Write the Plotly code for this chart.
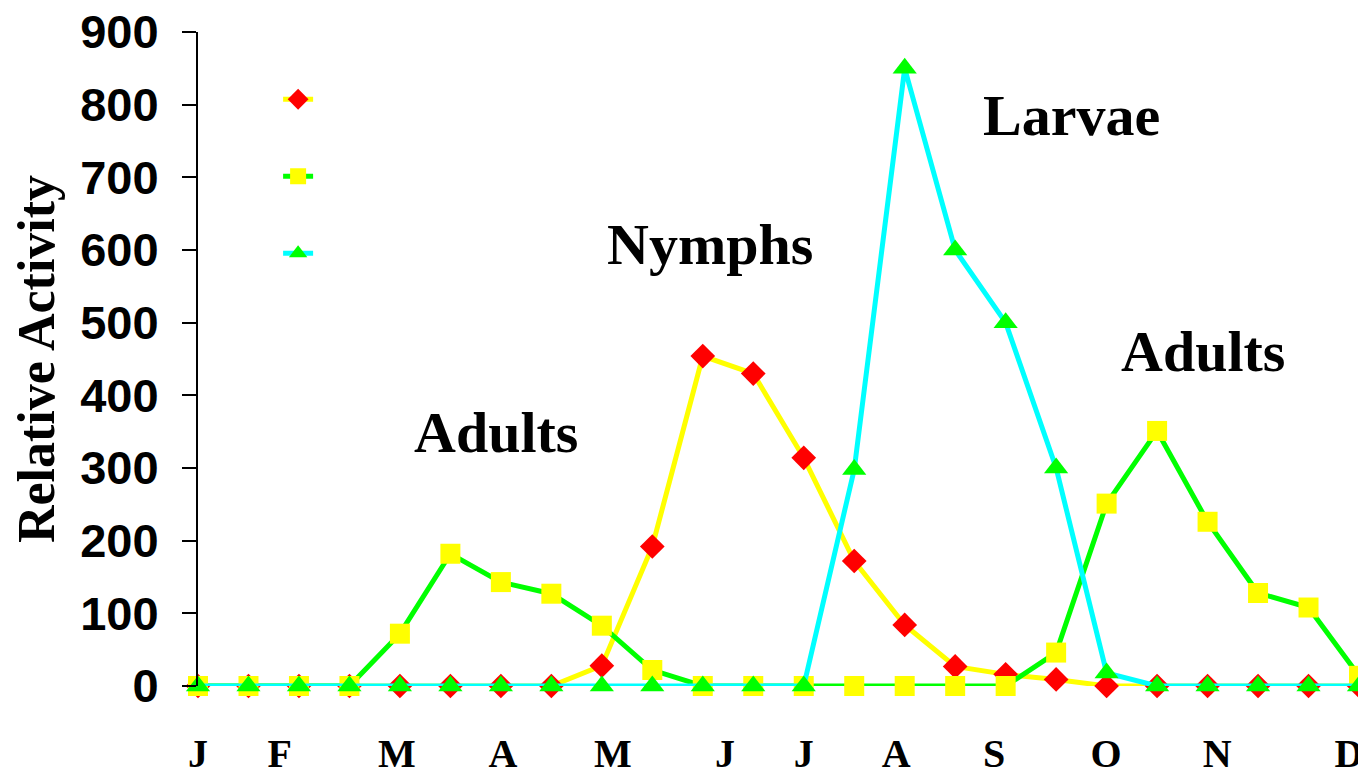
import plotly.graph_objects as go

# semi-monthly sampling points (Jan .. Dec, two per month)
periods = list(range(24))

nymphs = [0, 0, 0, 0, 0, 0, 0, 0, 28, 192, 454, 430, 314, 172, 84, 27, 16, 9, 0, 0, 0, 0, 0, 0]
adults = [0, 0, 0, 0, 72, 182, 143, 127, 83, 22, 0, 0, 0, 0, 0, 0, 0, 46, 251, 351, 226, 128, 108, 14]
larvae = [0, 0, 0, 0, 0, 0, 0, 0, 0, 0, 0, 0, 0, 298, 850, 600, 500, 300, 18, 0, 0, 0, 0, 0]

month_labels = ["J", "F", "M", "A", "M", "J", "J", "A", "S", "O", "N", "D"]
month_pos = [0, 1.62, 3.94, 6.04, 8.22, 10.44, 12.0, 13.83, 15.77, 17.99, 20.19, 22.8]

y_ticks = [0, 100, 200, 300, 400, 500, 600, 700, 800, 900]

stage_labels = ["Nymphs", "Larvae", "Adults", "Adults"]
stage_x = [10.15, 17.3, 5.9, 19.9]
stage_y = [607, 785, 349, 461]

SERIF = "Liberation Serif, Times New Roman, serif"

fig = go.Figure()
fig.add_trace(go.Scatter(
    x=periods, y=nymphs, mode="lines+markers", name="", legendgroup="n",
    line=dict(color="#FFFF00", width=5),
    marker=dict(symbol="diamond", size=19, color="#FF0000", line=dict(width=0)),
    cliponaxis=False))
fig.add_trace(go.Scatter(
    x=periods, y=adults, mode="lines+markers", name="", legendgroup="a",
    line=dict(color="#00FF00", width=5),
    marker=dict(symbol="square", size=20, color="#FFFF00", line=dict(width=0)),
    cliponaxis=False))
fig.add_trace(go.Scatter(
    x=periods, y=larvae, mode="lines+markers", name="", legendgroup="l",
    line=dict(color="#00FFFF", width=5),
    marker=dict(symbol="triangle-up", size=21, color="#00FF00", line=dict(width=0)),
    cliponaxis=False))

for txt, xv, yv in zip(stage_labels, stage_x, stage_y):
    fig.add_annotation(x=xv, y=yv, text=txt, showarrow=False,
                       font=dict(family=SERIF, size=58, color="#000000", weight="bold"),
                       xanchor="center", yanchor="middle")

# page body has an 8px margin, so the figure is sized to fit the window
fig.update_layout(
    width=1358, height=768,
    margin=dict(l=190, r=7, t=24, b=90, autoexpand=False),
    paper_bgcolor="white", plot_bgcolor="white",
    showlegend=True,
    legend=dict(x=0.069, y=0.927, xanchor="left", yanchor="top",
                font=dict(size=20), tracegroupgap=48,
                bgcolor="rgba(0,0,0,0)", itemwidth=30),
    xaxis=dict(range=[0, 23], showgrid=False, zeroline=False, showline=False,
               automargin=False, ticklabeloverflow="allow",
               ticks="", tickmode="array", tickvals=month_pos, ticktext=month_labels,
               tickfont=dict(family=SERIF, size=40, color="#000000", weight="bold"),
               ticklabelstandoff=40),
    yaxis=dict(range=[0, 900], showgrid=False, zeroline=False, showline=True,
               automargin=False, ticklabeloverflow="allow",
               linecolor="#000000", linewidth=2, ticks="outside", ticklen=14,
               tickwidth=2, tickcolor="#000000", tickmode="array", tickvals=y_ticks,
               tickfont=dict(family="Liberation Sans Narrow, Arial Narrow, Liberation Sans, Arial",
                             size=47, color="#000000", weight="bold"),
               ticklabelstandoff=14,
               title=dict(text="Relative Activity", standoff=30,
                          font=dict(family=SERIF, size=52, color="#000000", weight="bold"))),
)

fig.write_html("out.html")
